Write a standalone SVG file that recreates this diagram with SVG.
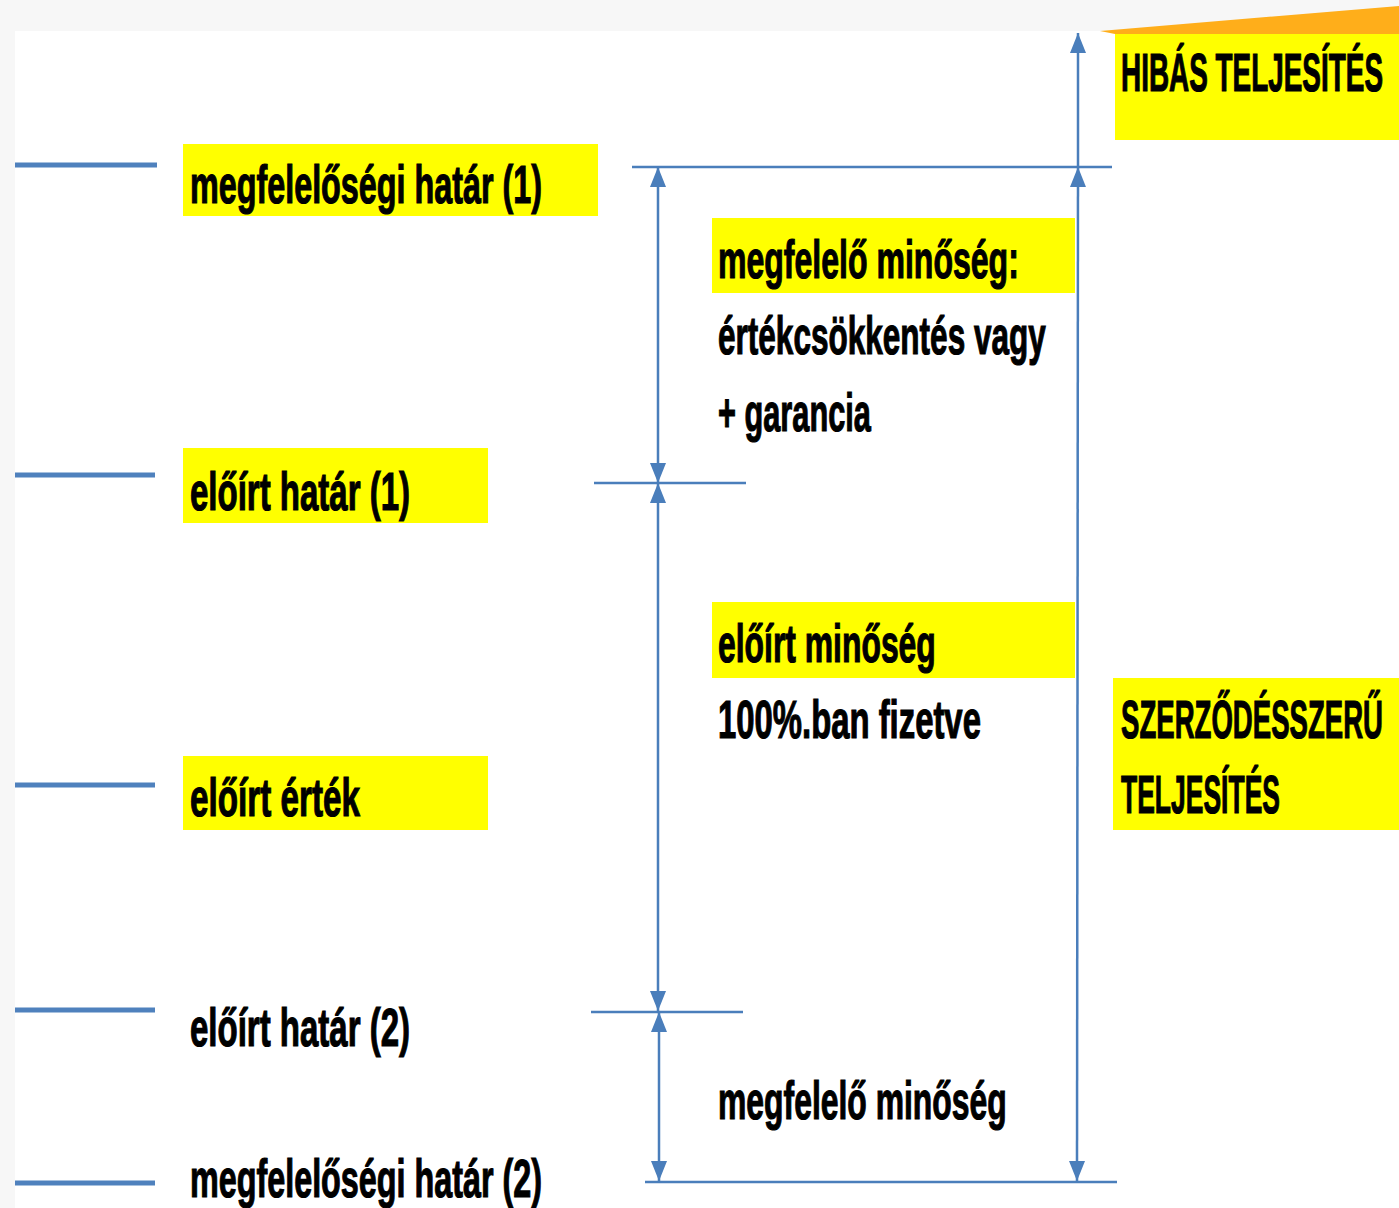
<svg xmlns="http://www.w3.org/2000/svg" width="1399" height="1208" viewBox="0 0 1399 1208">
<style>
.t{font-family:"Liberation Sans",Arial,sans-serif;font-weight:bold;font-size:54px;fill:#000;stroke:#000;stroke-width:1.2}
.hl{fill:#ffff00}
.tick{stroke:#4f81bd;stroke-width:5}
.ln{stroke:#4a7ebb;stroke-width:2.5;fill:none}
</style>
<defs>
<marker id="ah" markerUnits="userSpaceOnUse" markerWidth="20" markerHeight="16" viewBox="0 0 20 16" refX="20" refY="8" orient="auto-start-reverse">
<path d="M0,0 L20,8 L0,16 z" fill="#4a7ebb"/>
</marker>
</defs>
<rect x="0" y="0" width="1399" height="1208" fill="#f7f7f7"/>
<rect x="15" y="31" width="1384" height="1177" fill="#ffffff"/>
<polygon points="1100,31 1399,6 1399,34 1115,34" fill="#ffae1a"/>

<g id="connectors">
<line class="tick" x1="15" y1="165" x2="157" y2="165"/>
<line class="tick" x1="15" y1="475" x2="155" y2="475"/>
<line class="tick" x1="15" y1="785" x2="155" y2="785"/>
<line class="tick" x1="15" y1="1010" x2="155" y2="1010"/>
<line class="tick" x1="15" y1="1183" x2="155" y2="1183"/>
<line class="ln" x1="632" y1="167" x2="1112" y2="167"/>
<line class="ln" x1="594" y1="483" x2="746" y2="483"/>
<line class="ln" x1="591" y1="1012" x2="743" y2="1012"/>
<line class="ln" x1="645" y1="1182" x2="1117" y2="1182"/>
<line class="ln" x1="1078" y1="167" x2="1078" y2="33" marker-end="url(#ah)"/>
<line class="ln" x1="1077" y1="1181" x2="1078" y2="167" marker-start="url(#ah)" marker-end="url(#ah)"/>
<line class="ln" x1="658" y1="167" x2="658" y2="483" marker-start="url(#ah)" marker-end="url(#ah)"/>
<line class="ln" x1="658" y1="483" x2="658" y2="1011" marker-start="url(#ah)" marker-end="url(#ah)"/>
<line class="ln" x1="659" y1="1012" x2="659" y2="1181" marker-start="url(#ah)" marker-end="url(#ah)"/>
</g>

<g id="megfelelosegi-hatar-1">
<rect class="hl" x="183" y="144" width="415" height="72"/>
<text class="t" transform="translate(190,203) scale(0.55,1)" textLength="640" lengthAdjust="spacingAndGlyphs">megfelelőségi határ (1)</text>
</g>
<g id="eloirt-hatar-1">
<rect class="hl" x="183" y="448" width="305" height="75"/>
<text class="t" transform="translate(190,510) scale(0.55,1)" textLength="400" lengthAdjust="spacingAndGlyphs">előírt határ (1)</text>
</g>
<g id="eloirt-ertek">
<rect class="hl" x="183" y="756" width="305" height="74"/>
<text class="t" transform="translate(190,816) scale(0.55,1)" textLength="309" lengthAdjust="spacingAndGlyphs">előírt érték</text>
</g>
<g id="eloirt-hatar-2">
<text class="t" transform="translate(190,1046) scale(0.55,1)" textLength="400" lengthAdjust="spacingAndGlyphs">előírt határ (2)</text>
</g>
<g id="megfelelosegi-hatar-2">
<text class="t" transform="translate(190,1197) scale(0.55,1)" textLength="640" lengthAdjust="spacingAndGlyphs">megfelelőségi határ (2)</text>
</g>
<g id="megfelelo-minoseg-ertekcsokkentes">
<rect class="hl" x="712" y="218" width="363" height="75"/>
<text class="t" transform="translate(718,278) scale(0.55,1)" textLength="547" lengthAdjust="spacingAndGlyphs">megfelelő minőség:</text>
<text class="t" transform="translate(718,354) scale(0.55,1)" textLength="596" lengthAdjust="spacingAndGlyphs">értékcsökkentés vagy</text>
<text class="t" transform="translate(718,431) scale(0.55,1)" textLength="278" lengthAdjust="spacingAndGlyphs">+ garancia</text>
</g>
<g id="eloirt-minoseg">
<rect class="hl" x="712" y="602" width="363" height="76"/>
<text class="t" transform="translate(718,662) scale(0.55,1)" textLength="396" lengthAdjust="spacingAndGlyphs">előírt minőség</text>
<text class="t" transform="translate(718,738) scale(0.55,1)" textLength="478" lengthAdjust="spacingAndGlyphs">100%.ban fizetve</text>
</g>
<g id="megfelelo-minoseg">
<text class="t" transform="translate(718,1119) scale(0.55,1)" textLength="525" lengthAdjust="spacingAndGlyphs">megfelelő minőség</text>
</g>
<g id="hibas-teljesites">
<rect class="hl" x="1115" y="34" width="284" height="106"/>
<text class="t" transform="translate(1121,91) scale(0.5,1)" textLength="524" lengthAdjust="spacingAndGlyphs">HIBÁS TELJESÍTÉS</text>
</g>
<g id="szerzodesszeru-teljesites">
<rect class="hl" x="1113" y="678" width="286" height="152"/>
<text class="t" transform="translate(1121,738) scale(0.5,1)" textLength="524" lengthAdjust="spacingAndGlyphs">SZERZŐDÉSSZERŰ</text>
<text class="t" transform="translate(1121,813) scale(0.5,1)" textLength="318" lengthAdjust="spacingAndGlyphs">TELJESÍTÉS</text>
</g>
</svg>
